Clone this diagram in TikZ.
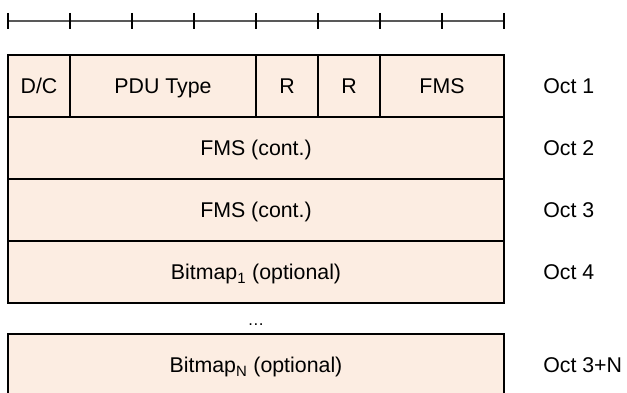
\documentclass[tikz,border=0pt]{standalone}
\usepackage{fontspec}
\setmainfont{Liberation Sans}
\usetikzlibrary{positioning}
\definecolor{octfill}{HTML}{FCEDE2}

\begin{document}
\begin{tikzpicture}[x=1pt,y=-1pt,node distance=0pt]
        \tikzstyle{field}=[rectangle, draw=black, line width=1pt, fill=octfill, minimum height=46.5pt, inner sep=0pt, outer sep=0pt, text height=11.4pt, text depth=0pt, font=\fontsize{16}{18}\selectfont]
        \tikzstyle{octet}=[inner sep=0pt, text height=11.4pt, text depth=0pt, font=\fontsize{16}{18}\selectfont]
        \clip (0,0) rectangle (470.25,294);
        % bit ruler
        \draw[black!65, line width=0.9pt] (6,15.75) -- (378,15.75);
        \foreach \b in {0,...,8}
            \draw[line width=0.8pt] (6+46.5*\b,9.75) -- (6+46.5*\b,21.75);
        \node[field,minimum width=46.5pt,anchor=north west] (dc) at (6,41.25) {D/C};
        \node[field,minimum width=139.5pt,right=of dc] (type) {PDU Type};
        \node[field,minimum width=46.5pt,right=of type] (r1) {R};
        \node[field,minimum width=46.5pt,right=of r1] (r2) {R};
        \node[field,minimum width=93pt,right=of r2] (fms) {FMS};
        \node[field,minimum width=372pt,anchor=north west] (fms2) at (dc.south west) {FMS (cont.)};
        \node[field,minimum width=372pt,below=of fms2] (fms3) {FMS (cont.)};
        \node[field,minimum width=372pt,below=of fms3] (bitmap1) {Bitmap\textsubscript{1} (optional)};
        \node[inner sep=0pt,font=\fontsize{12.5}{14}\selectfont,below=16.5pt of bitmap1,anchor=center] (dots) {\dots};
        \node[field,minimum width=372pt,below=23.25pt of bitmap1] (bitmapn) {Bitmap\textsubscript{N} (optional)};
        \node[octet,right=29.25pt of fms] (oct1) {Oct 1};
        \node[octet,right=29.25pt of fms2] (oct2) {Oct 2};
        \node[octet,right=29.25pt of fms3] (oct3) {Oct 3};
        \node[octet,right=29.25pt of bitmap1] (oct4) {Oct 4};
        \node[octet,right=29.25pt of bitmapn] (octn) {Oct 3+N};
    \end{tikzpicture}
\end{document}
